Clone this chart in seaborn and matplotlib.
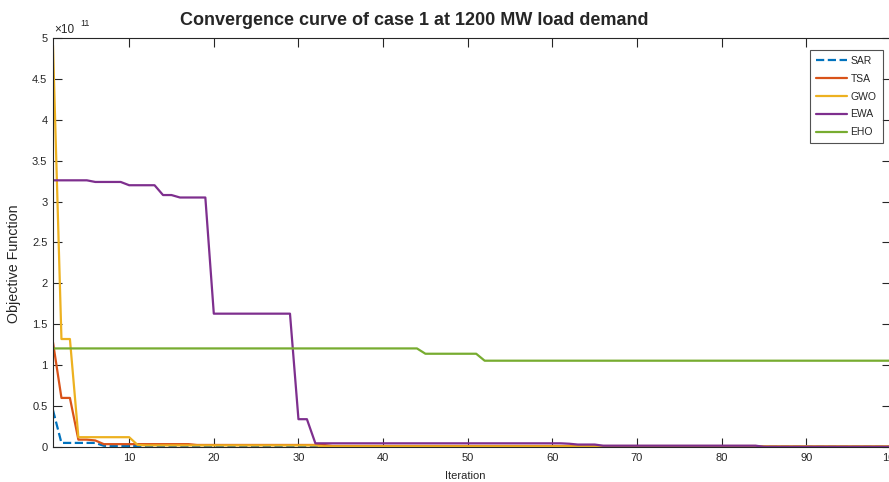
import numpy as np
import seaborn as sns
import matplotlib.pyplot as plt

# objective function values, in units of 1e11, one per iteration
iterations = list(range(1, 101))

sar = [0.45, 0.05, 0.05, 0.05, 0.05, 0.05, 0.015, 0.012, 0.012, 0.012,
       0.012, 0.012, 0.012, 0.012, 0.012, 0.012, 0.012, 0.012, 0.012, 0.012,
       0.012, 0.012, 0.012, 0.012, 0.004, 0.004, 0.004, 0.004, 0.004, 0.004,
       0.004, 0.004, 0.004, 0.004, 0.004, 0.004, 0.004, 0.004, 0.004, 0.004,
       0.004, 0.004, 0.004, 0.004, 0.004, 0.004, 0.004, 0.004, 0.004, 0.004,
       0.004, 0.004, 0.004, 0.004, 0.004, 0.004, 0.004, 0.004, 0.004, 0.004,
       0.004, 0.004, 0.004, 0.004, 0.004, 0.004, 0.004, 0.004, 0.004, 0.004,
       0.004, 0.004, 0.004, 0.004, 0.004, 0.004, 0.004, 0.004, 0.004, 0.004,
       0.004, 0.004, 0.004, 0.004, 0.004, 0.004, 0.004, 0.004, 0.004, 0.004,
       0.004, 0.004, 0.004, 0.004, 0.004, 0.004, 0.004, 0.004, 0.004, 0.004]

tsa = [1.28, 0.60, 0.60, 0.09, 0.09, 0.08, 0.035, 0.035, 0.035, 0.035,
       0.035, 0.035, 0.035, 0.035, 0.035, 0.035, 0.035, 0.025, 0.025, 0.025,
       0.025, 0.025, 0.025, 0.025, 0.025, 0.025, 0.025, 0.025, 0.025, 0.025,
       0.025, 0.025, 0.025, 0.012, 0.012, 0.012, 0.012, 0.012, 0.012, 0.012,
       0.012, 0.012, 0.012, 0.012, 0.012, 0.012, 0.012, 0.012, 0.012, 0.012,
       0.012, 0.012, 0.012, 0.012, 0.012, 0.012, 0.012, 0.012, 0.012, 0.012,
       0.012, 0.012, 0.012, 0.012, 0.012, 0.012, 0.012, 0.012, 0.012, 0.012,
       0.012, 0.012, 0.012, 0.012, 0.012, 0.012, 0.012, 0.012, 0.012, 0.012,
       0.012, 0.012, 0.012, 0.012, 0.006, 0.006, 0.006, 0.006, 0.006, 0.006,
       0.006, 0.006, 0.006, 0.006, 0.006, 0.006, 0.006, 0.006, 0.006, 0.006]

gwo = [4.91, 1.32, 1.32, 0.12, 0.12, 0.12, 0.12, 0.12, 0.12, 0.12,
       0.025, 0.02, 0.02, 0.02, 0.02, 0.02, 0.02, 0.02, 0.02, 0.02,
       0.02, 0.02, 0.02, 0.02, 0.02, 0.02, 0.02, 0.02, 0.02, 0.02,
       0.02, 0.02, 0.008, 0.008, 0.008, 0.008, 0.008, 0.008, 0.008, 0.008,
       0.008, 0.008, 0.008, 0.008, 0.008, 0.008, 0.008, 0.008, 0.008, 0.008,
       0.008, 0.008, 0.008, 0.008, 0.008, 0.008, 0.008, 0.008, 0.008, 0.008,
       0.008, 0.008, 0.008, 0.008, 0.008, 0.008, 0.008, 0.008, 0.008, 0.008,
       0.008, 0.008, 0.008, 0.008, 0.008, 0.008, 0.008, 0.008, 0.008, 0.008,
       0.008, 0.008, 0.008, 0.008, 0.008, 0.008, 0.008, 0.008, 0.008, 0.008,
       0.008, 0.008, 0.008, 0.008, 0.008, 0.008, 0.008, 0.008, 0.008, 0.008]

ewa = [3.26, 3.26, 3.26, 3.26, 3.26, 3.24, 3.24, 3.24, 3.24, 3.20,
       3.20, 3.20, 3.20, 3.08, 3.08, 3.05, 3.05, 3.05, 3.05, 1.63,
       1.63, 1.63, 1.63, 1.63, 1.63, 1.63, 1.63, 1.63, 1.63, 0.34,
       0.34, 0.045, 0.045, 0.045, 0.045, 0.045, 0.045, 0.045, 0.045, 0.045,
       0.045, 0.045, 0.045, 0.045, 0.045, 0.045, 0.045, 0.045, 0.045, 0.045,
       0.045, 0.045, 0.045, 0.045, 0.045, 0.045, 0.045, 0.045, 0.045, 0.045,
       0.045, 0.04, 0.03, 0.03, 0.03, 0.016, 0.016, 0.016, 0.016, 0.016,
       0.016, 0.016, 0.016, 0.016, 0.016, 0.016, 0.016, 0.016, 0.016, 0.016,
       0.016, 0.016, 0.016, 0.016, 0.003, 0.003, 0.003, 0.003, 0.003, 0.003,
       0.003, 0.003, 0.003, 0.003, 0.003, 0.003, 0.003, 0.003, 0.003, 0.003]

eho = [1.205, 1.205, 1.205, 1.205, 1.205, 1.205, 1.205, 1.205, 1.205, 1.205,
       1.205, 1.205, 1.205, 1.205, 1.205, 1.205, 1.205, 1.205, 1.205, 1.205,
       1.205, 1.205, 1.205, 1.205, 1.205, 1.205, 1.205, 1.205, 1.205, 1.205,
       1.205, 1.205, 1.205, 1.205, 1.205, 1.205, 1.205, 1.205, 1.205, 1.205,
       1.205, 1.205, 1.205, 1.205, 1.14, 1.14, 1.14, 1.14, 1.14, 1.14,
       1.14, 1.055, 1.055, 1.055, 1.055, 1.055, 1.055, 1.055, 1.055, 1.055,
       1.055, 1.055, 1.055, 1.055, 1.055, 1.055, 1.055, 1.055, 1.055, 1.055,
       1.055, 1.055, 1.055, 1.055, 1.055, 1.055, 1.055, 1.055, 1.055, 1.055,
       1.055, 1.055, 1.055, 1.055, 1.055, 1.055, 1.055, 1.055, 1.055, 1.055,
       1.055, 1.055, 1.055, 1.055, 1.055, 1.055, 1.055, 1.055, 1.055, 1.055]

labels = ["SAR", "TSA", "GWO", "EWA", "EHO"]
colors = ["#0072BD", "#D95319", "#EDB120", "#7E2F8E", "#77AC30"]
styles = ["--", "-", "-", "-", "-"]

sns.set_style("ticks")
plt.rcParams["font.family"] = ["Liberation Sans", "DejaVu Sans"]

fig = plt.figure(figsize=(8.89, 4.82), dpi=100)
# the source image is cropped on the right, so the axes run a little past the edge
ax = fig.add_axes([0.0596, 0.0726, 0.9426, 0.8486])

for series, lab, col, ls in zip([sar, tsa, gwo, ewa, eho], labels, colors, styles):
    sns.lineplot(x=iterations, y=np.array(series) * 1e11, color=col,
                 linestyle=ls, linewidth=1.6, label=lab, ax=ax)

ax.set_xlim(1, 100)
ax.set_ylim(0, 5e11)
ax.set_xticks(range(10, 101, 10))
ax.set_yticks(np.arange(0, 5.01, 0.5) * 1e11)
ax.set_yticklabels(["0", "0.5", "1", "1.5", "2", "2.5", "3", "3.5", "4", "4.5", "5"])

for s in ax.spines.values():
    s.set_color("#262626")
    s.set_linewidth(0.8)
ax.tick_params(direction="in", length=6.5, width=0.8, colors="#262626",
               labelsize=8, top=True, right=True, pad=4)

ax.set_xlabel("Iteration", fontsize=8)
ax.xaxis.set_label_coords(0.492, -0.058)
ax.set_ylabel("Objective Function", fontsize=10.3)
ax.yaxis.set_label_coords(-0.038, 0.447)

# MATLAB style exponent above the y axis
ax.text(0.002, 1.006, "\u00d710", transform=ax.transAxes, fontsize=8.5,
        color="#262626", va="bottom", ha="left")
ax.text(0.033, 1.024, "11", transform=ax.transAxes, fontsize=6.5,
        color="#262626", va="bottom", ha="left")

fig.text(0.4663, 0.958, "Convergence curve of case 1 at 1200 MW load demand",
         fontsize=13, fontweight="bold", ha="center", va="center")

leg = ax.legend(loc="upper left", bbox_to_anchor=(0.911, 0.897),
                bbox_transform=fig.transFigure, fontsize=7.5,
                frameon=True, fancybox=False, handlelength=3.0,
                handletextpad=0.3, labelspacing=0.75, borderpad=0.6,
                borderaxespad=0)
leg.get_frame().set_edgecolor("#262626")
leg.get_frame().set_linewidth(0.8)

fig.savefig("out.png", dpi=100)
